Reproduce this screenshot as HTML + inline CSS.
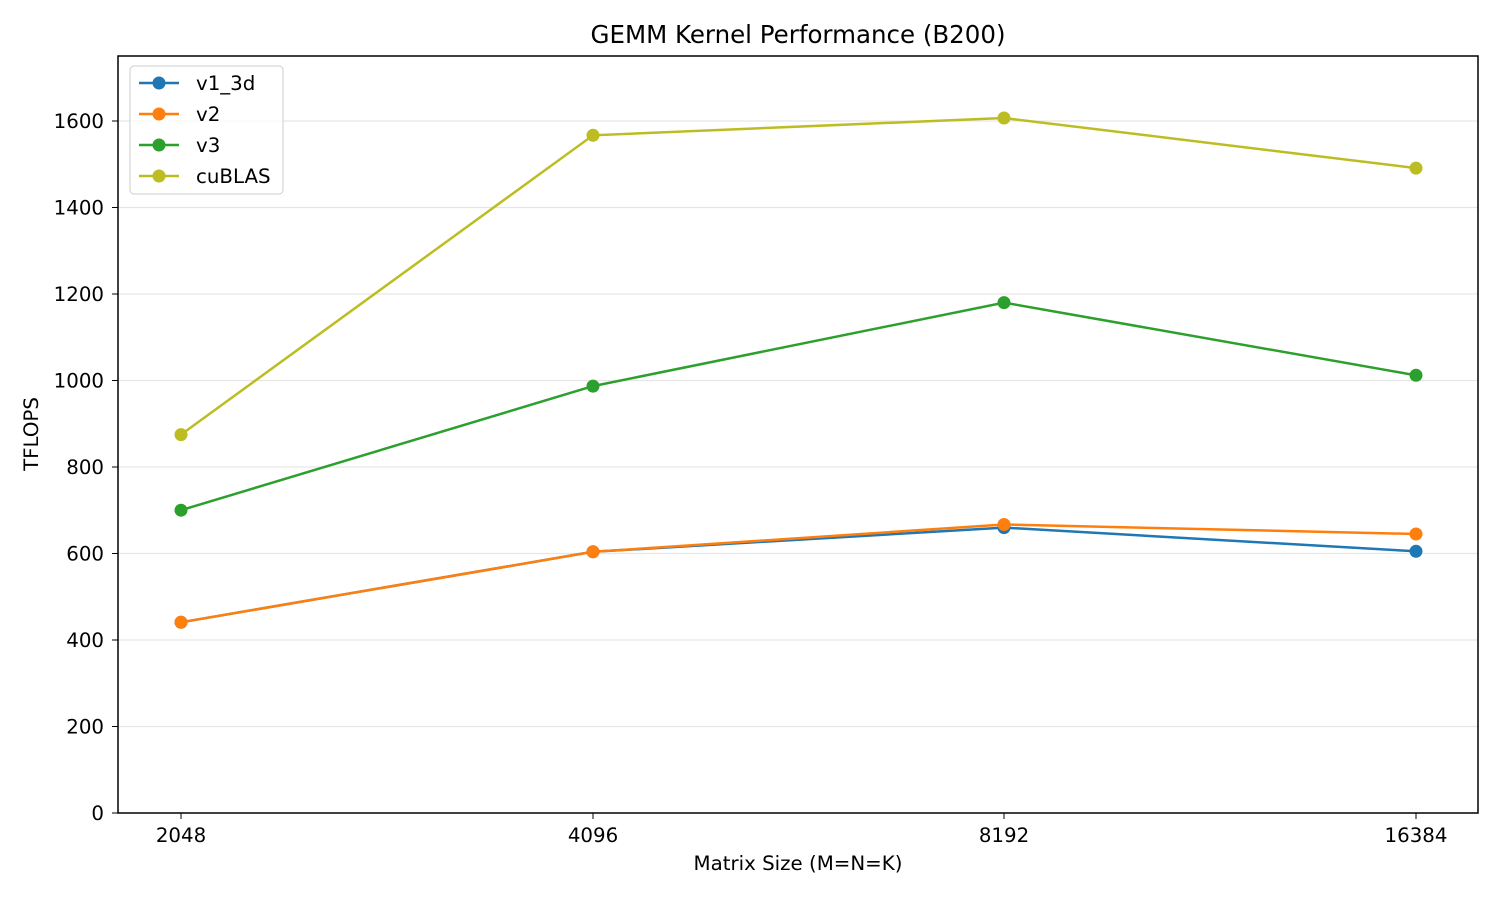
<!DOCTYPE html>
<html><head><style>
body{margin:0;background:#fff;}
text{font-family:"DejaVu Sans","Liberation Sans",sans-serif;fill:#000;}
</style></head><body>
<svg width="1500" height="900" xmlns="http://www.w3.org/2000/svg">
<rect width="1500" height="900" fill="#fff"/>
<g stroke="#e6e6e6" stroke-width="1.2">
<line x1="118" x2="1478" y1="726.5" y2="726.5"/>
<line x1="118" x2="1478" y1="640" y2="640"/>
<line x1="118" x2="1478" y1="553.5" y2="553.5"/>
<line x1="118" x2="1478" y1="467" y2="467"/>
<line x1="118" x2="1478" y1="380.5" y2="380.5"/>
<line x1="118" x2="1478" y1="294" y2="294"/>
<line x1="118" x2="1478" y1="207.5" y2="207.5"/>
<line x1="118" x2="1478" y1="121" y2="121"/>
</g>
<g font-size="19.8" text-anchor="end">
<text x="104" y="820">0</text>
<text x="104" y="733.5">200</text>
<text x="104" y="647">400</text>
<text x="104" y="560.5">600</text>
<text x="104" y="474">800</text>
<text x="104" y="387.5">1000</text>
<text x="104" y="301">1200</text>
<text x="104" y="214.5">1400</text>
<text x="104" y="128">1600</text>
</g>
<g stroke="#000" stroke-width="1">
<line x1="112" x2="118" y1="813" y2="813"/><line x1="112" x2="118" y1="726.5" y2="726.5"/><line x1="112" x2="118" y1="640" y2="640"/><line x1="112" x2="118" y1="553.5" y2="553.5"/><line x1="112" x2="118" y1="467" y2="467"/><line x1="112" x2="118" y1="380.5" y2="380.5"/><line x1="112" x2="118" y1="294" y2="294"/><line x1="112" x2="118" y1="207.5" y2="207.5"/><line x1="112" x2="118" y1="121" y2="121"/>
<line x1="181" x2="181" y1="813" y2="819"/><line x1="593" x2="593" y1="813" y2="819"/><line x1="1004" x2="1004" y1="813" y2="819"/><line x1="1416" x2="1416" y1="813" y2="819"/>
</g>
<g font-size="19.8" text-anchor="middle">
<text x="181" y="842">2048</text><text x="593" y="842">4096</text><text x="1004" y="842">8192</text><text x="1416" y="842">16384</text>
<text x="798" y="870">Matrix Size (M=N=K)</text>
<text x="798" y="43" font-size="24.5">GEMM Kernel Performance (B200)</text>
<text x="38" y="434" transform="rotate(-90 38 434)">TFLOPS</text>
</g>
<g fill="none" stroke-width="2.5">
<polyline stroke="#1f77b4" points="181,622.3 593,551.8 1004,527.6 1416,551.3"/>
<polyline stroke="#ff7f0e" points="181,622.3 593,551.8 1004,524.5 1416,534"/>
<polyline stroke="#2ca02c" points="181,510.2 593,386.1 1004,302.6 1416,375.3"/>
<polyline stroke="#bcbd22" points="181,434.6 593,135.3 1004,118 1416,168.1"/>
</g>
<g fill="#1f77b4"><circle cx="181" cy="622.3" r="6.5"/><circle cx="593" cy="551.8" r="6.5"/><circle cx="1004" cy="527.6" r="6.5"/><circle cx="1416" cy="551.3" r="6.5"/></g>
<g fill="#ff7f0e"><circle cx="181" cy="622.3" r="6.5"/><circle cx="593" cy="551.8" r="6.5"/><circle cx="1004" cy="524.5" r="6.5"/><circle cx="1416" cy="534" r="6.5"/></g>
<g fill="#2ca02c"><circle cx="181" cy="510.2" r="6.5"/><circle cx="593" cy="386.1" r="6.5"/><circle cx="1004" cy="302.6" r="6.5"/><circle cx="1416" cy="375.3" r="6.5"/></g>
<g fill="#bcbd22"><circle cx="181" cy="434.6" r="6.5"/><circle cx="593" cy="135.3" r="6.5"/><circle cx="1004" cy="118" r="6.5"/><circle cx="1416" cy="168.1" r="6.5"/></g>
<rect x="118" y="56" width="1360" height="757" fill="none" stroke="#000" stroke-width="1.5"/>
<rect x="130" y="66" width="153" height="128" rx="4" fill="#fff" fill-opacity="0.8" stroke="#ccc"/>
<g stroke-width="2.5">
<line x1="139" x2="179" y1="83" y2="83" stroke="#1f77b4"/><circle cx="159" cy="83" r="6.5" fill="#1f77b4"/>
<line x1="139" x2="179" y1="114" y2="114" stroke="#ff7f0e"/><circle cx="159" cy="114" r="6.5" fill="#ff7f0e"/>
<line x1="139" x2="179" y1="145" y2="145" stroke="#2ca02c"/><circle cx="159" cy="145" r="6.5" fill="#2ca02c"/>
<line x1="139" x2="179" y1="176" y2="176" stroke="#bcbd22"/><circle cx="159" cy="176" r="6.5" fill="#bcbd22"/>
</g>
<g font-size="19.8">
<text x="196" y="90">v1_3d</text><text x="196" y="121">v2</text><text x="196" y="152">v3</text><text x="196" y="183">cuBLAS</text>
</g>
</svg>
</body></html>
